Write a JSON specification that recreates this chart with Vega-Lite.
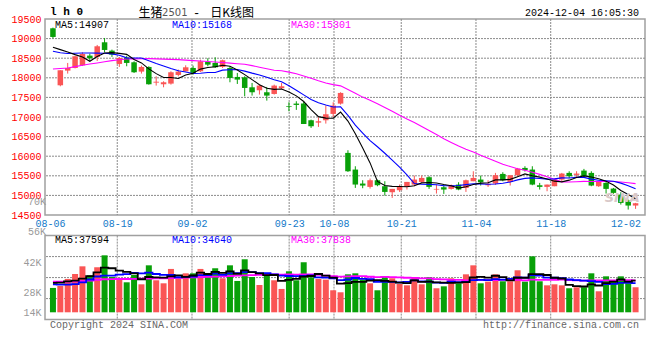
{
  "$schema": "https://vega.github.io/schema/vega-lite/v6.json",
  "background": "white",
  "padding": 0,
  "autosize": {"type": "pad"},
  "spacing": 20.6,
  "bounds": "flush",
  "config": {
    "view": {"stroke": "#a0a0a0", "strokeWidth": 1.5},
    "axis": {"domain": false, "ticks": false, "tickSize": 0, "labelFont": "Liberation Mono", "labelFontSize": 10, "gridColor": "#8a8a8a", "gridWidth": 1, "gridOpacity": 1, "labelOverlap": false, "tickCount": 20}
  },
  "datasets": {
    "k": [
      {"d":"2024-08-06","i":0,"o":19263,"h":19280,"l":19008,"c":19042,"v":29.0,"m5":18778,"m10":18676,"m30":18226,"vm5":34.9,"vm10":33.3,"vm30":36.5},
      {"d":"2024-08-07","i":1,"o":17809,"h":18192,"l":17784,"c":18192,"v":31.3,"m5":18719,"m10":18640,"m30":18238,"vm5":35.2,"vm10":33.0,"vm30":36.5},
      {"d":"2024-08-08","i":2,"o":18183,"h":18379,"l":18107,"c":18251,"v":39.7,"m5":18660,"m10":18620,"m30":18251,"vm5":36.9,"vm10":33.0,"vm30":36.6},
      {"d":"2024-08-09","i":3,"o":18251,"h":18560,"l":18240,"c":18549,"v":45.6,"m5":18591,"m10":18625,"m30":18285,"vm5":37.7,"vm10":33.5,"vm30":36.8},
      {"d":"2024-08-12","i":4,"o":18319,"h":18650,"l":18300,"c":18608,"v":54.7,"m5":18528,"m10":18634,"m30":18320,"vm5":40.1,"vm10":35.5,"vm30":37.2},
      {"d":"2024-08-13","i":5,"o":18566,"h":18617,"l":18421,"c":18498,"v":44.0,"m5":18420,"m10":18634,"m30":18350,"vm5":43.1,"vm10":39.0,"vm30":37.8},
      {"d":"2024-08-14","i":6,"o":18532,"h":18838,"l":18430,"c":18804,"v":53.6,"m5":18542,"m10":18630,"m30":18379,"vm5":47.5,"vm10":42.6,"vm30":38.6},
      {"d":"2024-08-15","i":7,"o":18906,"h":19016,"l":18651,"c":18710,"v":67.8,"m5":18634,"m10":18625,"m30":18408,"vm5":53.1,"vm10":43.7,"vm30":39.3},
      {"d":"2024-08-16","i":8,"o":18693,"h":18719,"l":18532,"c":18591,"v":42.0,"m5":18642,"m10":18610,"m30":18438,"vm5":52.4,"vm10":43.7,"vm30":39.5},
      {"d":"2024-08-19","i":9,"o":18353,"h":18532,"l":18277,"c":18506,"v":40.9,"m5":18622,"m10":18575,"m30":18460,"vm5":49.7,"vm10":44.9,"vm30":39.6},
      {"d":"2024-08-20","i":10,"o":18515,"h":18566,"l":18294,"c":18379,"v":35.7,"m5":18598,"m10":18509,"m30":18481,"vm5":48.0,"vm10":45.5,"vm30":39.6},
      {"d":"2024-08-21","i":11,"o":18396,"h":18421,"l":18124,"c":18141,"v":44.4,"m5":18465,"m10":18504,"m30":18484,"vm5":46.2,"vm10":46.8,"vm30":39.8},
      {"d":"2024-08-22","i":12,"o":18158,"h":18311,"l":18107,"c":18277,"v":33.3,"m5":18379,"m10":18506,"m30":18487,"vm5":39.3,"vm10":46.2,"vm30":40.0},
      {"d":"2024-08-23","i":13,"o":18277,"h":18294,"l":17826,"c":17835,"v":55.9,"m5":18228,"m10":18435,"m30":18489,"vm5":42.0,"vm10":47.2,"vm30":40.2},
      {"d":"2024-08-26","i":14,"o":17877,"h":18039,"l":17801,"c":17900,"v":38.1,"m5":18106,"m10":18364,"m30":18483,"vm5":41.5,"vm10":45.6,"vm30":40.4},
      {"d":"2024-08-27","i":15,"o":17835,"h":17911,"l":17758,"c":17886,"v":34.5,"m5":18008,"m10":18303,"m30":18477,"vm5":41.2,"vm10":44.6,"vm30":40.5},
      {"d":"2024-08-28","i":16,"o":17852,"h":18166,"l":17826,"c":18141,"v":51.6,"m5":18008,"m10":18237,"m30":18470,"vm5":42.7,"vm10":44.4,"vm30":40.7},
      {"d":"2024-08-29","i":17,"o":18073,"h":18209,"l":18039,"c":18158,"v":40.1,"m5":17984,"m10":18181,"m30":18464,"vm5":44.0,"vm10":41.7,"vm30":41.0},
      {"d":"2024-08-30","i":18,"o":18166,"h":18319,"l":18166,"c":18268,"v":46.4,"m5":18071,"m10":18149,"m30":18451,"vm5":42.1,"vm10":42.1,"vm30":41.2},
      {"d":"2024-09-02","i":19,"o":18251,"h":18311,"l":18081,"c":18124,"v":46.4,"m5":18115,"m10":18111,"m30":18438,"vm5":43.8,"vm10":42.6,"vm30":41.5},
      {"d":"2024-09-03","i":20,"o":18166,"h":18464,"l":18149,"c":18421,"v":51.6,"m5":18222,"m10":18115,"m30":18427,"vm5":47.2,"vm10":44.2,"vm30":41.8},
      {"d":"2024-09-04","i":21,"o":18404,"h":18498,"l":18294,"c":18336,"v":43.6,"m5":18261,"m10":18135,"m30":18415,"vm5":45.6,"vm10":44.2,"vm30":42.1},
      {"d":"2024-09-05","i":22,"o":18379,"h":18523,"l":18251,"c":18268,"v":52.4,"m5":18283,"m10":18134,"m30":18404,"vm5":48.1,"vm10":46.1,"vm30":42.4},
      {"d":"2024-09-06","i":23,"o":18277,"h":18464,"l":18251,"c":18447,"v":40.5,"m5":18319,"m10":18195,"m30":18390,"vm5":46.9,"vm10":44.5,"vm30":42.8},
      {"d":"2024-09-09","i":24,"o":18251,"h":18294,"l":17886,"c":17996,"v":55.9,"m5":18294,"m10":18205,"m30":18375,"vm5":48.8,"vm10":46.3,"vm30":43.2},
      {"d":"2024-09-10","i":25,"o":18022,"h":18124,"l":17843,"c":17954,"v":37.3,"m5":18200,"m10":18211,"m30":18360,"vm5":45.9,"vm10":46.6,"vm30":43.6},
      {"d":"2024-09-11","i":26,"o":18013,"h":18039,"l":17528,"c":17741,"v":63.1,"m5":18081,"m10":18171,"m30":18345,"vm5":49.8,"vm10":47.7,"vm30":44.0},
      {"d":"2024-09-12","i":27,"o":17758,"h":17869,"l":17546,"c":17631,"v":42.0,"m5":17954,"m10":18119,"m30":18310,"vm5":47.8,"vm10":47.9,"vm30":44.3},
      {"d":"2024-09-13","i":28,"o":17682,"h":17826,"l":17572,"c":17801,"v":32.5,"m5":17825,"m10":18072,"m30":18270,"vm5":46.2,"vm10":46.5,"vm30":44.5},
      {"d":"2024-09-18","i":29,"o":17631,"h":17767,"l":17418,"c":17546,"v":46.4,"m5":17735,"m10":18014,"m30":18233,"vm5":44.3,"vm10":46.5,"vm30":44.7},
      {"d":"2024-09-19","i":30,"o":17588,"h":17826,"l":17572,"c":17801,"v":38.1,"m5":17704,"m10":17952,"m30":18192,"vm5":44.4,"vm10":45.2,"vm30":45.0},
      {"d":"2024-09-20","i":31,"o":17733,"h":17869,"l":17716,"c":17784,"v":27.8,"m5":17713,"m10":17897,"m30":18178,"vm5":37.4,"vm10":43.6,"vm30":44.9},
      {"d":"2024-09-23","i":32,"o":17274,"h":17376,"l":17146,"c":17257,"v":48.8,"m5":17638,"m10":17796,"m30":18145,"vm5":38.7,"vm10":43.2,"vm30":45.2},
      {"d":"2024-09-24","i":33,"o":17342,"h":17402,"l":17181,"c":17308,"v":38.1,"m5":17539,"m10":17682,"m30":18104,"vm5":39.8,"vm10":43.0,"vm30":44.9},
      {"d":"2024-09-25","i":34,"o":17342,"h":17385,"l":16823,"c":16823,"v":59.5,"m5":17395,"m10":17565,"m30":18044,"vm5":42.5,"vm10":43.4,"vm30":45.1},
      {"d":"2024-09-26","i":35,"o":16917,"h":16934,"l":16721,"c":16764,"v":41.7,"m5":17187,"m10":17446,"m30":17987,"vm5":43.2,"vm10":43.8,"vm30":45.0},
      {"d":"2024-09-27","i":36,"o":16857,"h":16993,"l":16747,"c":16891,"v":39.7,"m5":17009,"m10":17361,"m30":17923,"vm5":45.6,"vm10":41.5,"vm30":44.5},
      {"d":"2024-09-30","i":37,"o":16917,"h":17291,"l":16832,"c":17070,"v":38.9,"m5":16971,"m10":17305,"m30":17868,"vm5":43.6,"vm10":41.2,"vm30":43.6},
      {"d":"2024-10-08","i":38,"o":17079,"h":17376,"l":17002,"c":17291,"v":26.2,"m5":16968,"m10":17254,"m30":17825,"vm5":41.2,"vm10":40.5,"vm30":43.0},
      {"d":"2024-10-09","i":39,"o":17342,"h":17631,"l":17316,"c":17614,"v":23.8,"m5":17126,"m10":17260,"m30":17795,"vm5":34.1,"vm10":38.3,"vm30":42.5},
      {"d":"2024-10-10","i":40,"o":16084,"h":16152,"l":15599,"c":15616,"v":45.2,"m5":16896,"m10":17042,"m30":17703,"vm5":34.8,"vm10":39.0,"vm30":42.8},
      {"d":"2024-10-11","i":41,"o":15659,"h":15744,"l":15191,"c":15277,"v":46.4,"m5":16574,"m10":16791,"m30":17608,"vm5":36.1,"vm10":40.8,"vm30":42.9},
      {"d":"2024-10-14","i":42,"o":15302,"h":15387,"l":15183,"c":15251,"v":38.9,"m5":16210,"m10":16591,"m30":17507,"vm5":36.1,"vm10":39.8,"vm30":43.0},
      {"d":"2024-10-15","i":43,"o":15217,"h":15430,"l":15174,"c":15387,"v":34.5,"m5":15829,"m10":16398,"m30":17425,"vm5":37.8,"vm10":39.5,"vm30":42.3},
      {"d":"2024-10-16","i":44,"o":15387,"h":15404,"l":15234,"c":15260,"v":26.2,"m5":15358,"m10":16242,"m30":17337,"vm5":38.2,"vm10":36.2,"vm30":41.9},
      {"d":"2024-10-17","i":45,"o":15234,"h":15361,"l":14996,"c":15089,"v":41.7,"m5":15253,"m10":16075,"m30":17244,"vm5":37.5,"vm10":36.2,"vm30":42.2},
      {"d":"2024-10-18","i":46,"o":15081,"h":15166,"l":14936,"c":15166,"v":40.5,"m5":15231,"m10":15902,"m30":17145,"vm5":36.4,"vm10":36.2,"vm30":41.8},
      {"d":"2024-10-21","i":47,"o":15132,"h":15276,"l":15089,"c":15234,"v":33.7,"m5":15227,"m10":15719,"m30":17047,"vm5":35.3,"vm10":35.7,"vm30":41.6},
      {"d":"2024-10-22","i":48,"o":15217,"h":15344,"l":15149,"c":15344,"v":32.1,"m5":15219,"m10":15524,"m30":16950,"vm5":34.8,"vm10":36.3,"vm30":41.1},
      {"d":"2024-10-23","i":49,"o":15276,"h":15506,"l":15234,"c":15404,"v":41.7,"m5":15247,"m10":15303,"m30":16859,"vm5":37.9,"vm10":38.1,"vm30":41.0},
      {"d":"2024-10-24","i":50,"o":15344,"h":15506,"l":15319,"c":15446,"v":33.3,"m5":15319,"m10":15286,"m30":16760,"vm5":36.3,"vm10":36.9,"vm30":40.4},
      {"d":"2024-10-25","i":51,"o":15464,"h":15489,"l":15166,"c":15217,"v":41.7,"m5":15329,"m10":15280,"m30":16656,"vm5":36.5,"vm10":36.4,"vm30":40.3},
      {"d":"2024-10-28","i":52,"o":15149,"h":15276,"l":15047,"c":15166,"v":28.6,"m5":15315,"m10":15271,"m30":16553,"vm5":35.5,"vm10":35.4,"vm30":39.5},
      {"d":"2024-10-29","i":53,"o":15208,"h":15276,"l":15038,"c":15149,"v":30.9,"m5":15276,"m10":15248,"m30":16443,"vm5":35.2,"vm10":35.0,"vm30":39.2},
      {"d":"2024-10-30","i":54,"o":15166,"h":15276,"l":15149,"c":15251,"v":40.5,"m5":15246,"m10":15247,"m30":16351,"vm5":35.0,"vm10":36.5,"vm30":38.7},
      {"d":"2024-10-31","i":55,"o":15276,"h":15336,"l":15132,"c":15149,"v":34.5,"m5":15186,"m10":15253,"m30":16258,"vm5":35.2,"vm10":35.8,"vm30":38.6},
      {"d":"2024-11-01","i":56,"o":15191,"h":15404,"l":15089,"c":15387,"v":45.2,"m5":15220,"m10":15275,"m30":16179,"vm5":35.9,"vm10":36.2,"vm30":38.0},
      {"d":"2024-11-04","i":57,"o":15361,"h":15616,"l":15361,"c":15446,"v":55.9,"m5":15276,"m10":15296,"m30":16106,"vm5":41.4,"vm10":38.4,"vm30":38.4},
      {"d":"2024-11-05","i":58,"o":15404,"h":15506,"l":15251,"c":15336,"v":34.5,"m5":15314,"m10":15295,"m30":16024,"vm5":42.1,"vm10":38.7,"vm30":38.5},
      {"d":"2024-11-06","i":59,"o":15259,"h":15387,"l":15217,"c":15293,"v":36.5,"m5":15322,"m10":15284,"m30":15949,"vm5":41.3,"vm10":38.2,"vm30":38.2},
      {"d":"2024-11-07","i":60,"o":15302,"h":15574,"l":15268,"c":15514,"v":45.2,"m5":15395,"m10":15291,"m30":15873,"vm5":43.5,"vm10":39.4,"vm30":38.4},
      {"d":"2024-11-08","i":61,"o":15548,"h":15591,"l":15361,"c":15387,"v":36.9,"m5":15395,"m10":15308,"m30":15793,"vm5":41.8,"vm10":38.9,"vm30":38.7},
      {"d":"2024-11-11","i":62,"o":15344,"h":15514,"l":15251,"c":15514,"v":36.9,"m5":15409,"m10":15343,"m30":15735,"vm5":38.0,"vm10":39.7,"vm30":38.3},
      {"d":"2024-11-12","i":63,"o":15514,"h":15701,"l":15489,"c":15684,"v":50.0,"m5":15478,"m10":15396,"m30":15681,"vm5":41.1,"vm10":41.6,"vm30":38.7},
      {"d":"2024-11-13","i":64,"o":15701,"h":15744,"l":15608,"c":15642,"v":36.5,"m5":15548,"m10":15435,"m30":15641,"vm5":41.1,"vm10":41.2,"vm30":37.9},
      {"d":"2024-11-14","i":65,"o":15659,"h":15744,"l":15259,"c":15276,"v":66.6,"m5":15501,"m10":15448,"m30":15592,"vm5":45.4,"vm10":44.4,"vm30":38.8},
      {"d":"2024-11-15","i":66,"o":15259,"h":15319,"l":15149,"c":15217,"v":36.9,"m5":15467,"m10":15431,"m30":15536,"vm5":45.4,"vm10":43.6,"vm30":38.7},
      {"d":"2024-11-18","i":67,"o":15217,"h":15276,"l":15106,"c":15276,"v":32.1,"m5":15419,"m10":15414,"m30":15476,"vm5":44.4,"vm10":41.2,"vm30":38.5},
      {"d":"2024-11-19","i":68,"o":15234,"h":15421,"l":15234,"c":15404,"v":33.3,"m5":15363,"m10":15421,"m30":15413,"vm5":41.1,"vm10":41.1,"vm30":38.7},
      {"d":"2024-11-20","i":69,"o":15404,"h":15574,"l":15361,"c":15557,"v":32.1,"m5":15346,"m10":15447,"m30":15345,"vm5":40.2,"vm10":40.7,"vm30":39.0},
      {"d":"2024-11-21","i":70,"o":15574,"h":15616,"l":15438,"c":15489,"v":28.6,"m5":15389,"m10":15445,"m30":15340,"vm5":32.6,"vm10":39.0,"vm30":38.4},
      {"d":"2024-11-22","i":71,"o":15523,"h":15616,"l":15472,"c":15557,"v":29.8,"m5":15457,"m10":15462,"m30":15350,"vm5":31.2,"vm10":38.3,"vm30":37.9},
      {"d":"2024-11-25","i":72,"o":15633,"h":15676,"l":15463,"c":15489,"v":29.8,"m5":15499,"m10":15459,"m30":15358,"vm5":30.7,"vm10":37.6,"vm30":37.6},
      {"d":"2024-11-26","i":73,"o":15574,"h":15616,"l":15234,"c":15251,"v":46.4,"m5":15469,"m10":15416,"m30":15353,"vm5":33.3,"vm10":37.2,"vm30":38.0},
      {"d":"2024-11-27","i":74,"o":15234,"h":15361,"l":15217,"c":15344,"v":25.0,"m5":15426,"m10":15386,"m30":15356,"vm5":31.9,"vm10":36.1,"vm30":37.9},
      {"d":"2024-11-28","i":75,"o":15319,"h":15336,"l":15047,"c":15166,"v":42.8,"m5":15361,"m10":15375,"m30":15359,"vm5":34.8,"vm10":33.7,"vm30":38.0},
      {"d":"2024-11-29","i":76,"o":15174,"h":15191,"l":15038,"c":15064,"v":38.1,"m5":15263,"m10":15360,"m30":15355,"vm5":36.4,"vm10":33.8,"vm30":37.9},
      {"d":"2024-12-02","i":77,"o":15021,"h":15081,"l":14766,"c":14809,"v":42.8,"m5":15127,"m10":15313,"m30":15341,"vm5":39.0,"vm10":34.9,"vm30":38.2},
      {"d":"2024-12-03","i":78,"o":14868,"h":14894,"l":14639,"c":14741,"v":34.5,"m5":15025,"m10":15247,"m30":15321,"vm5":36.6,"vm10":35.0,"vm30":38.3},
      {"d":"2024-12-04","i":79,"o":14741,"h":14809,"l":14656,"c":14800,"v":29.8,"m5":14916,"m10":15171,"m30":15301,"vm5":37.6,"vm10":34.8,"vm30":37.9}
    ]
  },
  "vconcat": [
    {
      "width": 600,
      "height": 196,
      "data": {"name": "k"},
      "layer": [
        {
          "data": {"values": [{"g": 15000}, {"g": 15500}, {"g": 16000}, {"g": 16500}, {"g": 17000}, {"g": 17500}, {"g": 18000}, {"g": 18500}, {"g": 19000}]},
          "mark": {"type": "rule", "color": "#8a8a8a", "strokeWidth": 1, "strokeDash": [2, 1]},
          "encoding": {"y": {"field": "g", "type": "quantitative", "scale": {"domain": [14500, 19500], "nice": false, "zero": false}}}
        },
        {
          "data": {"values": [{"t": 8.72}, {"t": 18.853}, {"t": 32.027}, {"t": 38.107}, {"t": 47.227}, {"t": 57.36}, {"t": 67.493}]},
          "mark": {"type": "rule", "color": "#8a8a8a", "strokeWidth": 1, "strokeDash": [2, 1]},
          "encoding": {"x": {"field": "t", "type": "quantitative", "scale": {"domain": [-0.4, 79.6], "nice": false, "zero": false}}}
        },
        {
          "mark": {"type": "rule", "strokeWidth": 1},
          "encoding": {
            "x": {"field": "i", "type": "quantitative", "scale": {"domain": [-0.4, 79.6], "nice": false, "zero": false},
              "axis": {"title": null, "tickCount": 20, "values": [-0.4, 8.72, 18.853, 32.027, 38.107, 47.227, 57.36, 67.493, 77.627],
                "labelExpr": "datum.value < 0 ? '08-06' : datum.value < 9 ? '08-19' : datum.value < 19 ? '09-02' : datum.value < 33 ? '09-23' : datum.value < 39 ? '10-08' : datum.value < 48 ? '10-21' : datum.value < 58 ? '11-04' : datum.value < 68 ? '11-18' : '12-02'",
                "labelColor": "#1279c9", "labelFlush": false, "labelOverlap": false, "labelPadding": 8, "labelBaseline": "middle", "grid": false}},
            "y": {"field": "l", "type": "quantitative", "scale": {"domain": [14500, 19500], "nice": false, "zero": false},
              "axis": {"title": null, "tickCount": 20, "values": [14500, 15000, 15500, 16000, 16500, 17000, 17500, 18000, 18500, 19000, 19500], "format": "d", "labelOverlap": false, "labelColor": "#ff0000", "labelPadding": 4, "grid": false}},
            "y2": {"field": "h"},
            "color": {"condition": {"test": "datum.c >= datum.o", "value": "#fa5555"}, "value": "#08a008"}
          }
        },
        {
          "mark": {"type": "bar", "size": 5.5},
          "encoding": {
            "x": {"field": "i", "type": "quantitative"},
            "y": {"field": "o", "type": "quantitative"},
            "y2": {"field": "c"},
            "color": {"condition": {"test": "datum.c >= datum.o", "value": "#fa5555"}, "value": "#08a008"}
          }
        },
        {
          "mark": {"type": "line", "color": "#ff00ff", "strokeWidth": 1.1},
          "encoding": {"x": {"field": "i", "type": "quantitative"}, "y": {"field": "m30", "type": "quantitative"}}
        },
        {
          "mark": {"type": "line", "color": "#0000ff", "strokeWidth": 1.1},
          "encoding": {"x": {"field": "i", "type": "quantitative"}, "y": {"field": "m10", "type": "quantitative"}}
        },
        {
          "mark": {"type": "line", "color": "#000000", "strokeWidth": 1.1},
          "encoding": {"x": {"field": "i", "type": "quantitative"}, "y": {"field": "m5", "type": "quantitative"}}
        },
        {
          "data": {"values": [{}]},
          "mark": {"type": "text", "text": "SINA", "font": "DejaVu Sans", "fontWeight": "bold", "fontStyle": "italic", "fontSize": 13, "color": "#d8c8c8", "align": "center", "baseline": "middle"},
          "encoding": {"x": {"datum": 77.2}, "y": {"datum": 14926}}
        },
        {
          "data": {"values": [{}]},
          "mark": {"type": "text", "text": "MA5:14907", "font": "Liberation Mono", "fontSize": 10, "color": "#000000", "align": "left", "baseline": "middle"},
          "encoding": {"x": {"datum": 0.27}, "y": {"datum": 19357}}
        },
        {
          "data": {"values": [{}]},
          "mark": {"type": "text", "text": "MA10:15168", "font": "Liberation Mono", "fontSize": 10, "color": "#0000ff", "align": "left", "baseline": "middle"},
          "encoding": {"x": {"datum": 16.13}, "y": {"datum": 19357}}
        },
        {
          "data": {"values": [{}]},
          "mark": {"type": "text", "text": "MA30:15301", "font": "Liberation Mono", "fontSize": 10, "color": "#ff00ff", "align": "left", "baseline": "middle"},
          "encoding": {"x": {"datum": 32.27}, "y": {"datum": 19357}}
        },
        {
          "data": {"values": [{}]},
          "mark": {"type": "text", "text": "70K", "font": "Liberation Mono", "fontSize": 10, "color": "#999999", "align": "right", "baseline": "middle"},
          "encoding": {"x": {"datum": -0.93}, "y": {"datum": 14842}}
        },
        {
          "data": {"values": [{}]},
          "mark": {"type": "text", "text": "l h 0", "font": "Liberation Mono", "fontWeight": "bold", "fontSize": 11, "color": "#000000", "align": "left", "baseline": "middle"},
          "encoding": {"x": {"datum": -0.4}, "y": {"datum": 19668}}
        },
        {
          "data": {"values": [{}]},
          "mark": {"type": "text", "text": "生猪", "font": "Noto Sans CJK SC", "fontSize": 12, "color": "#000000", "align": "left", "baseline": "middle"},
          "encoding": {"x": {"datum": 11.6}, "y": {"datum": 19663}}
        },
        {
          "data": {"values": [{}]},
          "mark": {"type": "text", "text": "2501", "font": "DejaVu Sans", "fontSize": 10, "color": "#555555", "align": "left", "baseline": "middle"},
          "encoding": {"x": {"datum": 14.8}, "y": {"datum": 19663}}
        },
        {
          "data": {"values": [{}]},
          "mark": {"type": "text", "text": "-", "font": "Liberation Mono", "fontSize": 12, "color": "#000000", "align": "center", "baseline": "middle"},
          "encoding": {"x": {"datum": 19.47}, "y": {"datum": 19663}}
        },
        {
          "data": {"values": [{}]},
          "mark": {"type": "text", "text": "日K线图", "font": "Noto Sans CJK SC", "fontSize": 12, "color": "#000000", "align": "left", "baseline": "middle"},
          "encoding": {"x": {"datum": 21.33}, "y": {"datum": 19663}}
        },
        {
          "data": {"values": [{}]},
          "mark": {"type": "text", "text": "2024-12-04 16:05:30", "font": "Liberation Mono", "fontSize": 10, "color": "#000000", "align": "right", "baseline": "middle"},
          "encoding": {"x": {"datum": 79.47}, "y": {"datum": 19653}}
        },
        {
          "data": {"values": [{}]},
          "mark": {"type": "rect", "opacity": 0},
          "encoding": {"x": {"datum": -7.0667}, "x2": {"datum": 80.9333}, "y": {"datum": 19951.5}, "y2": {"datum": 10768}}
        }
      ]
    },
    {
      "width": 600,
      "height": 84,
      "data": {"name": "k"},
      "layer": [
        {
          "data": {"values": [{"g": 16.3}, {"g": 41.3}, {"g": 66.3}]},
          "mark": {"type": "rule", "color": "#8a8a8a", "strokeWidth": 1, "strokeDash": [2, 1]},
          "encoding": {"y": {"field": "g", "type": "quantitative", "scale": {"domain": [-8.69, 91.27], "nice": false, "zero": false}}}
        },
        {
          "data": {"values": [{"t": 8.72}, {"t": 18.853}, {"t": 32.027}, {"t": 38.107}, {"t": 47.227}, {"t": 57.36}, {"t": 67.493}]},
          "mark": {"type": "rule", "color": "#8a8a8a", "strokeWidth": 1, "strokeDash": [2, 1]},
          "encoding": {"x": {"field": "t", "type": "quantitative", "scale": {"domain": [-0.4, 79.6], "nice": false, "zero": false}}}
        },
        {
          "mark": {"type": "bar", "size": 6},
          "encoding": {
            "x": {"field": "i", "type": "quantitative", "scale": {"domain": [-0.4, 79.6], "nice": false, "zero": false},
              "axis": {"title": null, "labels": false, "grid": false}},
            "y": {"field": "v", "type": "quantitative", "scale": {"domain": [-8.69, 91.27], "nice": false, "zero": false},
              "axis": {"title": null, "tickCount": 20, "values": [0, 23, 59.5], "labelExpr": "datum.value == 0 ? '14K' : datum.value < 30 ? '28K' : '42K'", "labelOverlap": false, "labelColor": "#999999", "labelPadding": 4, "grid": false}},
            "y2": {"datum": 0},
            "color": {"condition": {"test": "datum.c >= datum.o", "value": "#fa5555"}, "value": "#08a008"}
          }
        },
        {
          "mark": {"type": "line", "color": "#ff00ff", "strokeWidth": 1.8, "interpolate": "step"},
          "encoding": {"x": {"field": "i", "type": "quantitative"}, "y": {"field": "vm30", "type": "quantitative"}}
        },
        {
          "mark": {"type": "line", "color": "#0000ff", "strokeWidth": 1.8, "interpolate": "step"},
          "encoding": {"x": {"field": "i", "type": "quantitative"}, "y": {"field": "vm10", "type": "quantitative"}}
        },
        {
          "mark": {"type": "line", "color": "#000000", "strokeWidth": 1.8, "interpolate": "step"},
          "encoding": {"x": {"field": "i", "type": "quantitative"}, "y": {"field": "vm5", "type": "quantitative"}}
        },
        {
          "data": {"values": [{}]},
          "mark": {"type": "text", "text": "MA5:37594", "font": "Liberation Mono", "fontSize": 10, "color": "#000000", "align": "left", "baseline": "middle"},
          "encoding": {"x": {"datum": 0.27}, "y": {"datum": 85.7}}
        },
        {
          "data": {"values": [{}]},
          "mark": {"type": "text", "text": "MA10:34640", "font": "Liberation Mono", "fontSize": 10, "color": "#0000ff", "align": "left", "baseline": "middle"},
          "encoding": {"x": {"datum": 16.13}, "y": {"datum": 85.7}}
        },
        {
          "data": {"values": [{}]},
          "mark": {"type": "text", "text": "MA30:37838", "font": "Liberation Mono", "fontSize": 10, "color": "#ff00ff", "align": "left", "baseline": "middle"},
          "encoding": {"x": {"datum": 32.27}, "y": {"datum": 85.7}}
        },
        {
          "data": {"values": [{}]},
          "mark": {"type": "text", "text": "56K", "font": "Liberation Mono", "fontSize": 10, "color": "#999999", "align": "right", "baseline": "middle"},
          "encoding": {"x": {"datum": -0.93}, "y": {"datum": 96.0}}
        },
        {
          "data": {"values": [{}]},
          "mark": {"type": "text", "text": "Copyright 2024 SINA.COM", "font": "Liberation Mono", "fontSize": 10, "color": "#666666", "align": "left", "baseline": "middle"},
          "encoding": {"x": {"datum": -0.4}, "y": {"datum": -14.9}}
        },
        {
          "data": {"values": [{}]},
          "mark": {"type": "text", "text": "http://finance.sina.com.cn", "font": "Liberation Mono", "fontSize": 10, "color": "#666666", "align": "right", "baseline": "middle"},
          "encoding": {"x": {"datum": 79.47}, "y": {"datum": -14.9}}
        }
      ]
    }
  ]
}
